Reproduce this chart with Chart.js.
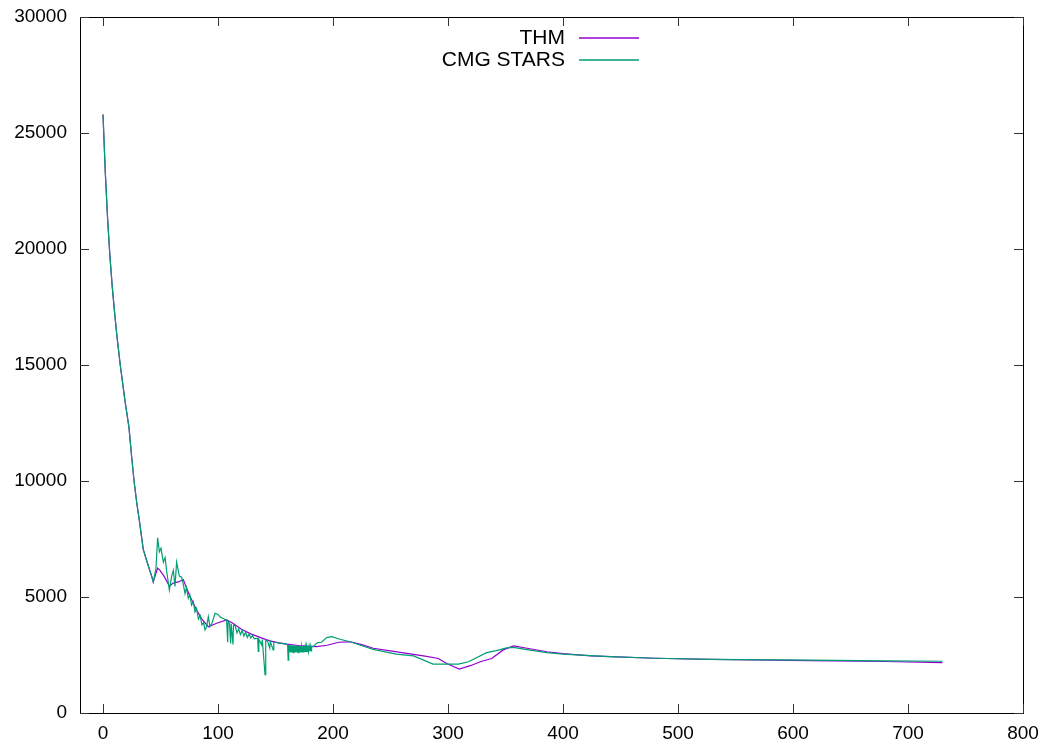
<!DOCTYPE html>
<html>
<head>
<meta charset="utf-8">
<script src="https://cdn.jsdelivr.net/npm/chart.js@4/dist/chart.umd.min.js"></script>
<style>
  body { margin: 0; background: #fff; }
</style>
</head>
<body>
<canvas id="myChart" width="1051" height="749"></canvas>
<script>
// THM series (x = time, y = value)
const thmX = [0, 2, 4, 6, 8, 10, 12, 15, 19, 22.6, 25, 27, 29.5, 31.6, 35, 39, 42.3, 43.7, 47.5, 49.6, 53, 57.7, 61, 65.5, 69.8, 75, 81.4, 86, 91.6, 98.9, 107.5, 113, 120, 128, 136.5, 145, 152, 159.7, 170, 185.8, 195, 205, 214.8, 225, 235, 250, 264, 280, 291.6, 298.9, 309.8, 320, 328, 338, 348, 357, 370, 386, 400, 424, 441, 480, 528, 615, 680, 730];
const thmY = [25800, 23300, 21300, 19700, 18400, 17300, 16300, 15000, 13500, 12300, 11000, 10000, 9000, 8300, 7050, 6400, 5900, 5650, 6250, 6150, 5900, 5470, 5600, 5650, 5750, 5100, 4440, 4050, 3720, 3870, 4010, 3870, 3620, 3420, 3260, 3110, 3030, 2970, 2910, 2860, 2920, 3050, 3070, 2950, 2790, 2680, 2570, 2450, 2350, 2130, 1890, 2050, 2210, 2350, 2720, 2890, 2780, 2640, 2560, 2460, 2430, 2360, 2310, 2260, 2220, 2170];

// CMG STARS series
const cmgX = [0, 2, 4, 6, 8, 10, 12, 15, 19, 22.6, 25, 27, 29.5, 31.6, 35, 39, 42.3, 43.7, 46, 47.5, 49, 50.4, 52.5, 54, 55.4, 57.7, 59.7, 61.2, 62.6, 64, 66.4, 68.4, 70, 71.3, 72.5, 74.2, 75.5, 77, 78.5, 80, 81.4, 83, 84.5, 86, 87.5, 88.7, 90, 91.6, 93, 95, 97.4, 100, 101.7, 104, 107.5, 108.4, 108.8, 110, 111, 111.5, 113, 113.5, 115, 116.5, 118, 119.5, 121, 122.5, 124, 125.5, 127, 128.5, 130, 131.5, 133.6, 134.5, 135, 135.5, 138, 138.5, 140.9, 141.5, 143, 145, 145.5, 148, 148.5, 150, 152, 155, 159.7, 160.5, 161, 161.5,
  162.2, 162.7, 163.3, 163.8, 164.4, 164.9, 165.5, 166, 166.6, 167.1, 167.7, 168.2, 168.8, 169.3, 169.9, 170.4, 171, 171.5, 172.1, 172.6, 173.2, 173.7, 174.3, 174.8, 175.4, 175.9, 176.5, 177, 177.6, 178.1, 178.7, 179.2, 179.8, 180.3, 180.9, 181.4,
  183, 185.5, 187, 190, 194.5, 199, 206, 214.8, 235, 255, 270, 287, 299, 309, 317.8, 333.6, 342, 351, 357, 370, 386, 400, 424, 441, 480, 528, 615, 680, 730];
const cmgY = [25800, 23300, 21300, 19700, 18400, 17300, 16300, 15000, 13500, 12300, 11000, 10000, 9000, 8300, 7050, 6400, 5900, 5650, 6200, 7550, 6950, 7100, 6500, 6700, 6100, 5300, 5900, 6150, 5450, 6500, 5900, 5850, 5500, 5150, 5400, 4950, 5100, 4650, 4800, 4350, 4500, 4050, 4200, 3800, 3900, 3580, 3700, 4150, 3720, 3900, 4300, 4250, 4150, 4080, 4000, 3050, 3950, 3850, 3000, 3850, 2950, 3800, 3750, 3450, 3620, 3380, 3560, 3320, 3480, 3260, 3400, 3230, 3340, 3200, 3220, 3200, 2650, 3180, 2930, 3170, 1650, 3150, 3100, 2800, 3080, 2720, 3050, 3050, 3020, 3000, 2970, 2950, 2280, 2930,
  2620, 2920, 2610, 2910, 2630, 2920, 2600, 2900, 2620, 2910, 2610, 2900, 2630, 2900, 2600, 2890, 2620, 2900, 2610, 2890, 2630, 2880, 2610, 2890, 2620, 2880, 2630, 2880, 2640, 2870, 2650, 2870, 2660, 2880, 2680, 2870,
  2860, 3000, 3030, 3050, 3250, 3290, 3180, 3070, 2740, 2540, 2460, 2110, 2110, 2110, 2210, 2600, 2690, 2810, 2830, 2720, 2600, 2540, 2470, 2430, 2360, 2310, 2280, 2250, 2230];

const seriesNames = ['THM', 'CMG STARS'];
const seriesColors = ['#9400d3', '#009e73'];
const xTicks = [0, 100, 200, 300, 400, 500, 600, 700, 800];
const yTicks = [0, 5000, 10000, 15000, 20000, 25000, 30000];

const toPoints = (xs, ys) => xs.map((x, i) => ({ x: x, y: ys[i] }));

// gnuplot-like frame with inward ticks on all sides, plus key
const framePlugin = {
    id: 'frame',
    afterDraw(chart) {
        const c = chart.ctx;
        const a = chart.chartArea;
        const sx = chart.scales.x, sy = chart.scales.y;
        c.save();
        c.strokeStyle = '#000';
        c.lineWidth = 1;
        c.strokeRect(Math.round(a.left) + 0.5, Math.round(a.top) + 0.5,
            Math.round(a.right - a.left), Math.round(a.bottom - a.top));
        c.strokeStyle = '#333';
        c.beginPath();
        xTicks.forEach(v => {
            const px = Math.round(sx.getPixelForValue(v)) + 0.5;
            c.moveTo(px, a.bottom); c.lineTo(px, a.bottom - 9);
            c.moveTo(px, a.top); c.lineTo(px, a.top + 9);
        });
        yTicks.forEach(v => {
            const py = Math.round(sy.getPixelForValue(v)) + 0.5;
            c.moveTo(a.left, py); c.lineTo(a.left + 9, py);
            c.moveTo(a.right, py); c.lineTo(a.right - 9, py);
        });
        c.stroke();

        // key
        c.font = '21px "Liberation Sans", Arial, sans-serif';
        c.textAlign = 'right';
        c.textBaseline = 'middle';
        seriesNames.forEach((name, i) => {
            const y = 38 + i * 22;
            c.fillStyle = '#000';
            c.fillText(name, 565, y);
            c.beginPath();
            c.strokeStyle = seriesColors[i];
            c.lineWidth = 1.3;
            c.moveTo(579, y); c.lineTo(639, y);
            c.stroke();
        });
        c.restore();
    }
};

const ctx = document.getElementById('myChart');
const tickFont = { family: '"Liberation Sans", Arial, sans-serif', size: 19 };

const myChart = new Chart(ctx, {
    type: 'line',
    data: {
        datasets: [{
            label: seriesNames[0],
            data: toPoints(thmX, thmY),
            borderColor: seriesColors[0],
            borderWidth: 1.2,
            pointRadius: 0,
            tension: 0,
            order: 1
        }, {
            label: seriesNames[1],
            data: toPoints(cmgX, cmgY),
            borderColor: seriesColors[1],
            borderWidth: 1.2,
            pointRadius: 0,
            tension: 0,
            order: 0
        }]
    },
    options: {
        responsive: false,
        animation: false,
        layout: { padding: { top: 17, right: 28, left: 0, bottom: 0 } },
        plugins: {
            legend: { display: false },
            tooltip: { enabled: false }
        },
        scales: {
            x: {
                type: 'linear',
                min: -20,
                max: 800,
                afterBuildTicks: s => { s.ticks = xTicks.map(v => ({ value: v })); },
                afterFit: s => { s.height = 36; s.paddingLeft = 0; s.paddingRight = 0; },
                grid: { display: false, drawTicks: false },
                border: { display: false },
                ticks: { color: '#000', font: tickFont, padding: 9, maxRotation: 0, callback: v => String(v) }
            },
            y: {
                min: 0,
                max: 30000,
                afterBuildTicks: s => { s.ticks = yTicks.map(v => ({ value: v })); },
                afterFit: s => { s.width = 80; s.paddingTop = 0; s.paddingBottom = 0; },
                grid: { display: false, drawTicks: false },
                border: { display: false },
                ticks: { color: '#000', font: tickFont, padding: 13, callback: v => String(v) }
            }
        }
    },
    plugins: [framePlugin]
});
</script>
</body>
</html>
